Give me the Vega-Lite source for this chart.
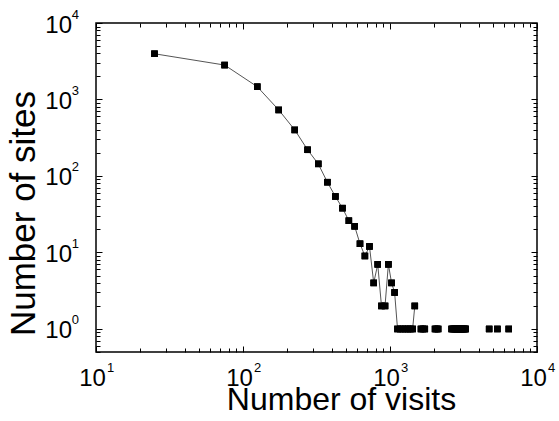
{
  "$schema": "https://vega.github.io/schema/vega-lite/v6.json",
  "width": 441,
  "height": 329,
  "autosize": "none",
  "padding": {"left": 96, "top": 23, "right": 22, "bottom": 69},
  "background": "white",
  "config": {
    "view": {"stroke": "black", "strokeWidth": 1.5},
    "axis": {
      "grid": false,
      "domain": false,
      "labelFont": "Liberation Sans",
      "titleFont": "Liberation Sans",
      "labelColor": "black",
      "titleColor": "black",
      "tickColor": "black",
      "labelFlush": false,
      "labelOverlap": false,
      "labelBound": false
    }
  },
  "data": {
    "values": [
      {"visits": 25, "sites": 3960, "run": 1},
      {"visits": 75, "sites": 2820, "run": 1},
      {"visits": 125, "sites": 1470, "run": 1},
      {"visits": 175, "sites": 730, "run": 1},
      {"visits": 225, "sites": 400, "run": 1},
      {"visits": 275, "sites": 220, "run": 1},
      {"visits": 325, "sites": 144, "run": 1},
      {"visits": 375, "sites": 83, "run": 1},
      {"visits": 425, "sites": 54, "run": 1},
      {"visits": 475, "sites": 38, "run": 1},
      {"visits": 525, "sites": 26, "run": 1},
      {"visits": 575, "sites": 22, "run": 1},
      {"visits": 625, "sites": 13, "run": 1},
      {"visits": 675, "sites": 9, "run": 1},
      {"visits": 725, "sites": 12, "run": 1},
      {"visits": 775, "sites": 4, "run": 1},
      {"visits": 825, "sites": 7, "run": 1},
      {"visits": 875, "sites": 2, "run": 1},
      {"visits": 925, "sites": 2, "run": 1},
      {"visits": 975, "sites": 7, "run": 1},
      {"visits": 1025, "sites": 4, "run": 1},
      {"visits": 1075, "sites": 3, "run": 1},
      {"visits": 1125, "sites": 1, "run": 1},
      {"visits": 1175, "sites": 1, "run": 1},
      {"visits": 1225, "sites": 1, "run": 1},
      {"visits": 1275, "sites": 1, "run": 1},
      {"visits": 1325, "sites": 1, "run": 1},
      {"visits": 1375, "sites": 1, "run": 1},
      {"visits": 1425, "sites": 1, "run": 1},
      {"visits": 1475, "sites": 2, "run": 1},
      {"visits": 1625, "sites": 1, "run": 2},
      {"visits": 1675, "sites": 1, "run": 2},
      {"visits": 1725, "sites": 1, "run": 2},
      {"visits": 2025, "sites": 1, "run": 3},
      {"visits": 2075, "sites": 1, "run": 3},
      {"visits": 2125, "sites": 1, "run": 3},
      {"visits": 2625, "sites": 1, "run": 4},
      {"visits": 2675, "sites": 1, "run": 4},
      {"visits": 2725, "sites": 1, "run": 4},
      {"visits": 2775, "sites": 1, "run": 4},
      {"visits": 2825, "sites": 1, "run": 4},
      {"visits": 2875, "sites": 1, "run": 4},
      {"visits": 2925, "sites": 1, "run": 4},
      {"visits": 2975, "sites": 1, "run": 4},
      {"visits": 3025, "sites": 1, "run": 4},
      {"visits": 3075, "sites": 1, "run": 4},
      {"visits": 3125, "sites": 1, "run": 4},
      {"visits": 3175, "sites": 1, "run": 4},
      {"visits": 3225, "sites": 1, "run": 4},
      {"visits": 3275, "sites": 1, "run": 4},
      {"visits": 4725, "sites": 1, "run": 5},
      {"visits": 5375, "sites": 1, "run": 6},
      {"visits": 6425, "sites": 1, "run": 7}
    ]
  },
  "layer": [
    {
      "mark": {"type": "line", "color": "#555555", "strokeWidth": 1},
      "encoding": {
        "x": {
          "field": "visits", "type": "quantitative",
          "scale": {"type": "log", "domain": [10, 10000], "nice": false},
          "axis": {
            "orient": "bottom", "values": [10, 100, 1000, 10000], "labelExpr": "'10'",
            "ticks": false, "labelFontSize": 24, "labelBaseline": "alphabetic",
            "labelAlign": "center", "labelPadding": 33, "labelOffset": -4,
            "title": "Number of visits", "titleFontSize": 32, "titleFontWeight": "normal",
            "titleX": 245, "titleY": 57, "titleAlign": "center", "titleBaseline": "alphabetic"
          }
        },
        "y": {
          "field": "sites", "type": "quantitative",
          "scale": {"type": "log", "domain": [0.5, 10000], "nice": false},
          "axis": {
            "orient": "left", "values": [1, 10, 100, 1000, 10000], "labelExpr": "'10'",
            "ticks": false, "labelFontSize": 24, "labelAlign": "right", "labelBaseline": "alphabetic",
            "labelPadding": 24.5, "labelOffset": 9,
            "title": "Number of sites", "titleFontSize": 35, "titleFontWeight": "normal",
            "titleAngle": -90, "titleX": -62, "titleY": 190, "titleAlign": "center", "titleBaseline": "alphabetic"
          }
        },
        "detail": {"field": "run", "type": "nominal"}
      }
    },
    {
      "mark": {"type": "point", "shape": "square", "filled": true, "color": "black", "opacity": 1, "size": 42},
      "encoding": {
        "x": {
          "field": "visits", "type": "quantitative",
          "axis": {
            "orient": "bottom", "values": [10, 100, 1000, 10000],
            "labelExpr": "'' + round(log(datum.value) / LN10)",
            "ticks": false, "labelFontSize": 13, "labelBaseline": "alphabetic",
            "labelAlign": "center", "labelPadding": 19, "labelOffset": 14, "title": null
          }
        },
        "y": {
          "field": "sites", "type": "quantitative",
          "axis": {
            "orient": "left", "values": [1, 10, 100, 1000, 10000],
            "labelExpr": "'' + round(log(datum.value) / LN10)",
            "ticks": false, "labelFontSize": 13, "labelAlign": "right", "labelBaseline": "alphabetic",
            "labelPadding": 17.5, "labelOffset": -5, "title": null
          }
        }
      }
    },
    {
      "mark": {"type": "point", "shape": "square", "filled": true, "color": "black", "opacity": 1, "size": 42},
      "encoding": {
        "x": {
          "field": "visits", "type": "quantitative",
          "axis": {
            "orient": "bottom", "labels": false, "title": null, "tickWidth": 1,
            "values": [10,20,30,40,50,60,70,80,90,100,200,300,400,500,600,700,800,900,1000,2000,3000,4000,5000,6000,7000,8000,9000,10000],
            "tickSize": {"condition": {"test": "abs(log(datum.value)/LN10 - round(log(datum.value)/LN10)) < 0.001", "value": -6}, "value": -4}
          }
        },
        "y": {
          "field": "sites", "type": "quantitative",
          "axis": {
            "orient": "left", "labels": false, "title": null, "tickWidth": 1,
            "values": [0.5,0.6,0.7,0.8,0.9,1,2,3,4,5,6,7,8,9,10,20,30,40,50,60,70,80,90,100,200,300,400,500,600,700,800,900,1000,2000,3000,4000,5000,6000,7000,8000,9000,10000],
            "tickSize": {"condition": {"test": "abs(log(datum.value)/LN10 - round(log(datum.value)/LN10)) < 0.001", "value": -6}, "value": -4}
          }
        }
      }
    },
    {
      "mark": {"type": "point", "shape": "square", "filled": true, "color": "black", "opacity": 1, "size": 42},
      "encoding": {
        "x": {
          "field": "visits", "type": "quantitative",
          "axis": {
            "orient": "top", "labels": false, "title": null, "tickWidth": 1,
            "values": [10,20,30,40,50,60,70,80,90,100,200,300,400,500,600,700,800,900,1000,2000,3000,4000,5000,6000,7000,8000,9000,10000],
            "tickSize": {"condition": {"test": "abs(log(datum.value)/LN10 - round(log(datum.value)/LN10)) < 0.001", "value": -6}, "value": -4}
          }
        },
        "y": {
          "field": "sites", "type": "quantitative",
          "axis": {
            "orient": "right", "labels": false, "title": null, "tickWidth": 1,
            "values": [0.5,0.6,0.7,0.8,0.9,1,2,3,4,5,6,7,8,9,10,20,30,40,50,60,70,80,90,100,200,300,400,500,600,700,800,900,1000,2000,3000,4000,5000,6000,7000,8000,9000,10000],
            "tickSize": {"condition": {"test": "abs(log(datum.value)/LN10 - round(log(datum.value)/LN10)) < 0.001", "value": -6}, "value": -4}
          }
        }
      }
    }
  ],
  "resolve": {"axis": {"x": "independent", "y": "independent"}}
}
